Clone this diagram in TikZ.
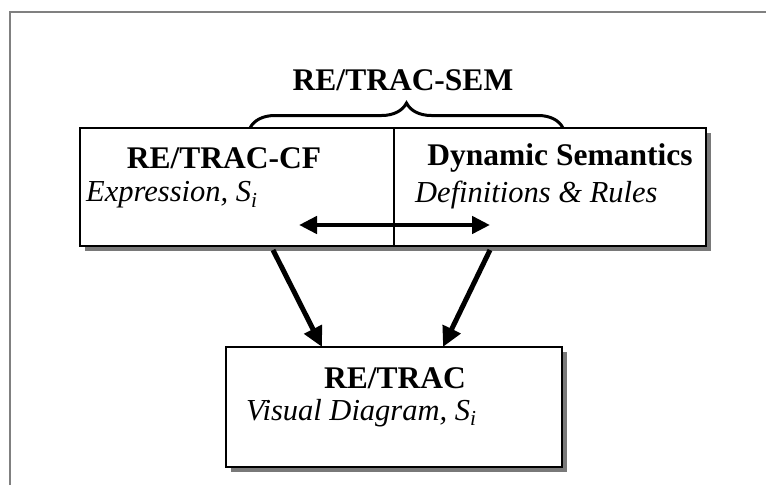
\documentclass[tikz,border=0pt]{standalone}
\usepackage{fontspec}
\setmainfont{Liberation Serif}
\usetikzlibrary{arrows.meta,shadows,decorations.pathreplacing}

\begin{document}
\begin{tikzpicture}
    [ x=1pt, y=-1pt,
      borderLine/.style={draw=gray, line width=2.2pt},
      box/.style={draw=black, fill=white, line width=1.3pt, inner sep=0pt,
                  drop shadow={shadow xshift=4.5pt, shadow yshift=-4.5pt, fill=gray!95!black, opacity=1}},
      boldText/.style={font=\fontsize{31.5}{33}\selectfont\bfseries, inner sep=0pt},
      itText/.style={font=\fontsize{30.5}{32}\selectfont\itshape, anchor=west, inner sep=0pt},
      arrow/.style={black, line width=5pt, -{Triangle[length=20pt,width=19pt]}},
      dblArrow/.style={black, line width=4.5pt, {Triangle[length=18pt,width=17pt]}-{Triangle[length=18pt,width=17pt]}},
      semBrace/.style={black, line width=3pt, decorate, decoration={brace, amplitude=25pt}}]

  \useasboundingbox (0,0) rectangle (766,485);

%%%%%%%%%%%%%%%%%%%%%%%%%%%%%%%%%%%%%%%%%%%%%%%%%%%%%%%%%%%%%%%%%%%%%%%%%%%%%%%%%%%%%%%%%%%%%%%%%%%%%%%%%%
%frame
	  \draw[borderLine] (10,485) -- (10,12) -- (766,12);

%%%%%%%%%%%%%%%%%%%%%%%%%%%%%%%%%%%%%%%%%%%%%%%%%%%%%%%%%%%%%%%%%%%%%%%%%%%%%%%%%%%%%%%%%%%%%%%%%%%%%%%%%%
%boxes
	  \node[box, minimum width=314pt, minimum height=118pt] (cf) at (237,187) {};
	  \node[box, minimum width=312pt, minimum height=118pt] (ds) at (550,187) {};
	  \node[box, minimum width=336pt, minimum height=120pt] (rt) at (394,407) {};

	  \node[boldText] (cfTitle) at (224,158) {RE/TRAC-CF};
	  \node[itText]   (cfExpr)  at (86,195) {Expression, S\textsubscript{i}};
	  \node[boldText] (dsTitle) at (560,158) {Dynamic Semantics};
	  \node[itText]   (dsRules) at (415,195) {Definitions \& Rules};
	  \node[boldText] (rtTitle) at (395,378) {RE/TRAC};
	  \node[itText]   (rtDiag)  at (246,413) {Visual Diagram, S\textsubscript{i}};

%%%%%%%%%%%%%%%%%%%%%%%%%%%%%%%%%%%%%%%%%%%%%%%%%%%%%%%%%%%%%%%%%%%%%%%%%%%%%%%%%%%%%%%%%%%%%%%%%%%%%%%%%%
%brace and arrows
	  \coordinate (braceL) at (250,128);
	  \coordinate (braceR) at (563,128);
	  \draw[semBrace] (braceL) -- (braceR);
	  \node[boldText] (sem) at (403,80) {RE/TRAC-SEM};

	  \coordinate (linkL) at (299,225);
	  \coordinate (linkR) at (490,225);
	  \draw[dblArrow] (linkL) -- (linkR);

	  \coordinate (cfOut) at (273,250);
	  \coordinate (dsOut) at (490,250);
	  \coordinate (rtInL) at (322,347);
	  \coordinate (rtInR) at (443,347);
	  \draw[arrow] (cfOut) -- (rtInL);
	  \draw[arrow] (dsOut) -- (rtInR);

\end{tikzpicture}
\end{document}
